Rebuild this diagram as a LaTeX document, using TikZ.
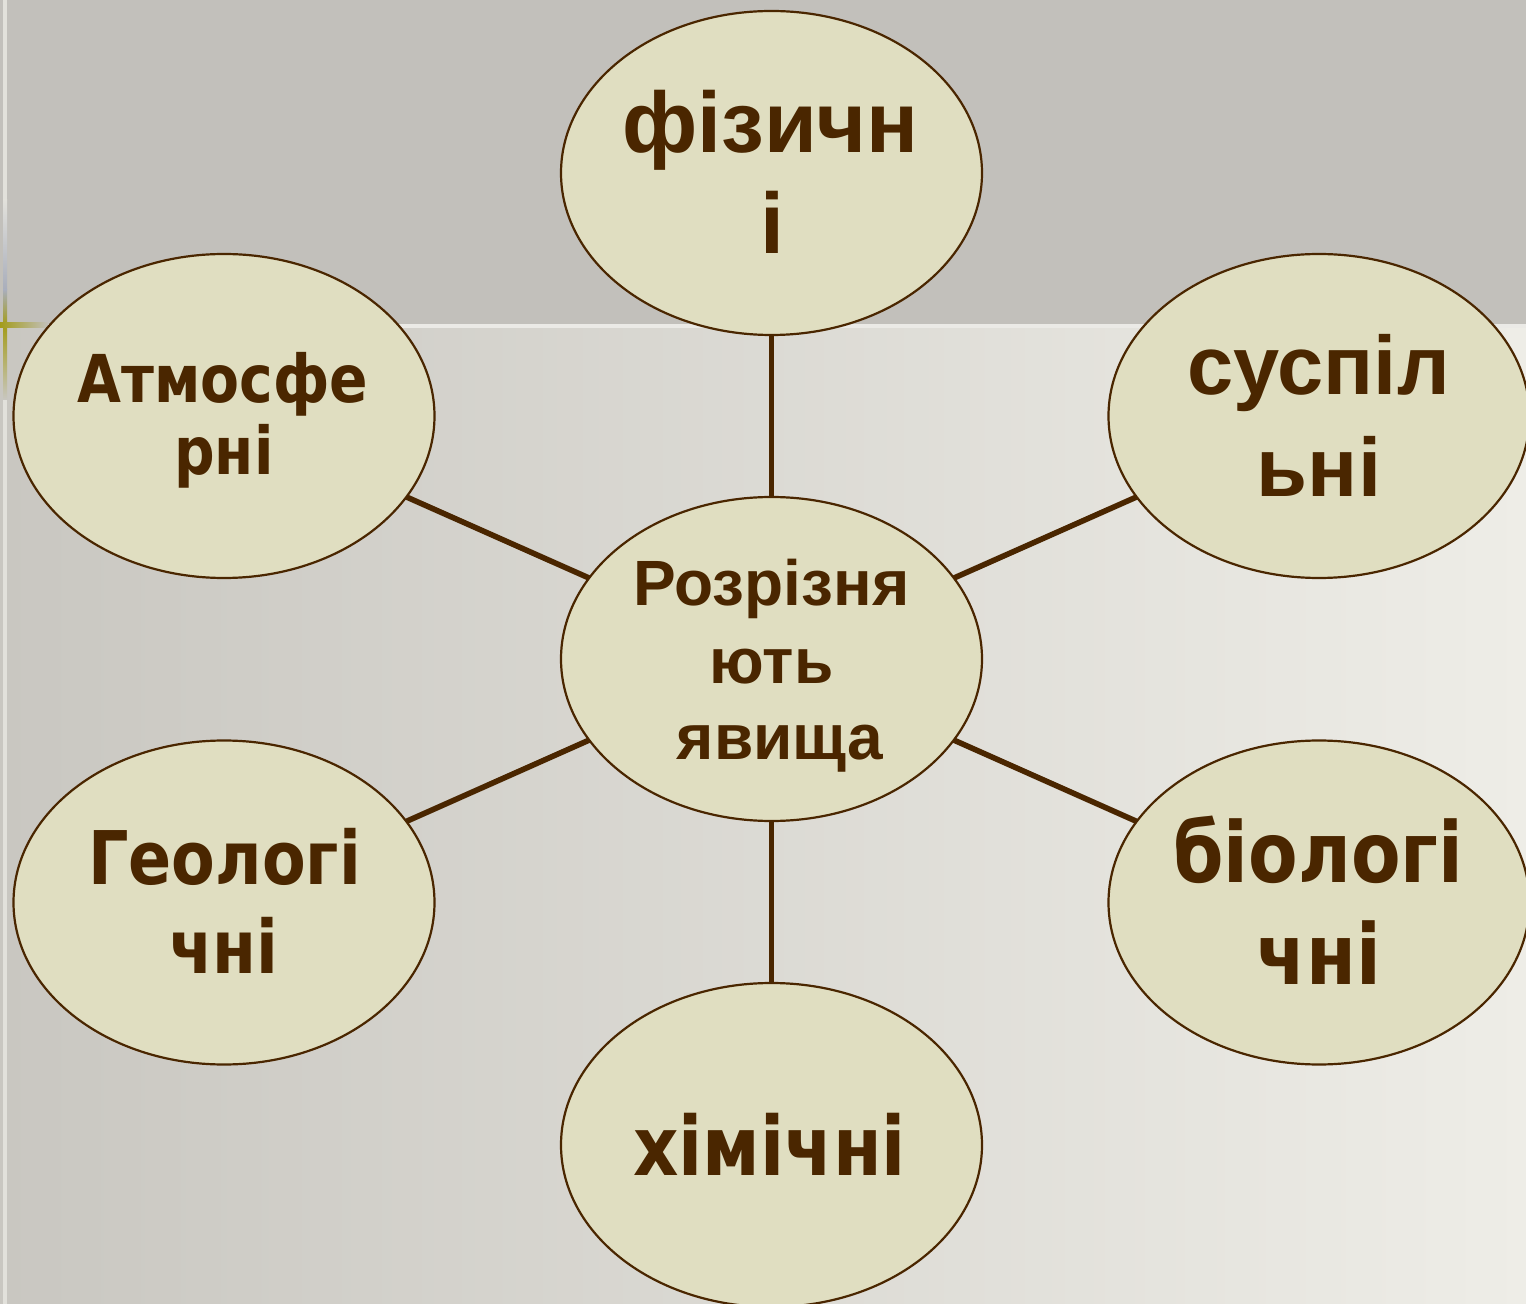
\documentclass[tikz,border=0pt]{standalone}
\usepackage{fontspec}
\usetikzlibrary{shapes.geometric}
\newfontfamily\arialf{Liberation Sans}
\newfontfamily\tahf{DejaVu Sans}[FakeStretch=0.86]
\definecolor{bgtop}{HTML}{C2C0BB}
\definecolor{bgl}{HTML}{C9C7C1}
\definecolor{bgr}{HTML}{EEEDE7}
\definecolor{blobfill}{HTML}{E0DEC1}
\definecolor{brown}{HTML}{4A2600}
\definecolor{olive}{HTML}{A39C1A}
\definecolor{bluegray}{HTML}{A9AEBB}
\definecolor{pale}{HTML}{E2E1DB}
\tikzset{
  blob/.style={ellipse, draw=brown, line width=1.1pt, fill=blobfill,
    minimum width=210.5pt, minimum height=162pt, inner sep=0pt, outer sep=0pt},
  conn/.style={draw=brown, line width=2.8pt},
  txt/.style={anchor=base, inner sep=0pt, outer sep=0pt, text=brown},
}
\begin{document}
\begin{tikzpicture}[x=0.5pt,y=-0.5pt]
\useasboundingbox (0,0) rectangle (1526,1304);
\clip (0,0) rectangle (1526,1304);
% background
\fill[bgtop] (0,0) rectangle (1526,325);
\shade[left color=bgl, right color=bgr] (0,325) rectangle (1526,1304);
\fill[pale!70!white] (45,324) rectangle (1526,328);
\fill[pale] (3,0) rectangle (7,1304);
\shade[top color=pale, bottom color=bluegray] (3,200) rectangle (7,290);
\shade[top color=bluegray, bottom color=olive] (3,290) rectangle (7,325);
\shade[top color=olive, bottom color=bgl] (3,325) rectangle (7,400);
\shade[left color=olive, right color=bgtop] (0,323) rectangle (48,328);
% ellipses
\node[blob] (top) at (771.5,173) {};
\node[blob] (ctr) at (771.5,659) {};
\node[blob] (lt) at (224,416) {};
\node[blob] (rt) at (1319,416) {};
\node[blob] (lb) at (224,902.5) {};
\node[blob] (rb) at (1319,902.5) {};
\node[blob] (bot) at (771.5,1145) {};
% connectors
\draw[conn] (ctr) -- (top);
\draw[conn] (ctr) -- (bot);
\draw[conn] (ctr) -- (lt);
\draw[conn] (ctr) -- (rt);
\draw[conn] (ctr) -- (lb);
\draw[conn] (ctr) -- (rb);
% texts
\node[txt, font=\arialf\bfseries\fontsize{43pt}{43pt}\selectfont] (top1) at (770.5,153) {фізичн};
\node[txt, font=\arialf\bfseries\fontsize{43pt}{43pt}\selectfont] (top2) at (772,254) {і};
\node[txt, font=\arialf\bfseries\fontsize{41.5pt}{41.5pt}\selectfont] (rt1) at (1318.5,395) {суспіл};
\node[txt, font=\arialf\bfseries\fontsize{41.5pt}{41.5pt}\selectfont] (rt2) at (1319,497) {ьні};
\node[txt, font=\arialf\bfseries\fontsize{32pt}{32pt}\selectfont] (c1) at (771.5,606) {Розрізня};
\node[txt, font=\arialf\bfseries\fontsize{32pt}{32pt}\selectfont] (c2) at (771.7,683) {ють};
\node[txt, font=\arialf\bfseries\fontsize{32pt}{32pt}\selectfont] (c3) at (780,759) {явища};
\node[txt, font=\tahf\bfseries\fontsize{33pt}{33pt}\selectfont] (lt1) at (222.5,403) {Атмосфе};
\node[txt, font=\tahf\bfseries\fontsize{33pt}{33pt}\selectfont] (lt2) at (224,475) {рні};
\node[txt, font=\tahf\bfseries\fontsize{37pt}{37pt}\selectfont] (lb1) at (224.5,884) {Геологі};
\node[txt, font=\tahf\bfseries\fontsize{37pt}{37pt}\selectfont] (lb2) at (224,973) {чні};
\node[txt, font=\tahf\bfseries\fontsize{42pt}{42pt}\selectfont] (rb1) at (1318.5,882) {біологі};
\node[txt, font=\tahf\bfseries\fontsize{42pt}{42pt}\selectfont] (rb2) at (1319,984) {чні};
\node[txt, font=\tahf\bfseries\fontsize{41pt}{41pt}\selectfont] (bot1) at (769.5,1175) {хімічні};
\end{tikzpicture}
\end{document}
